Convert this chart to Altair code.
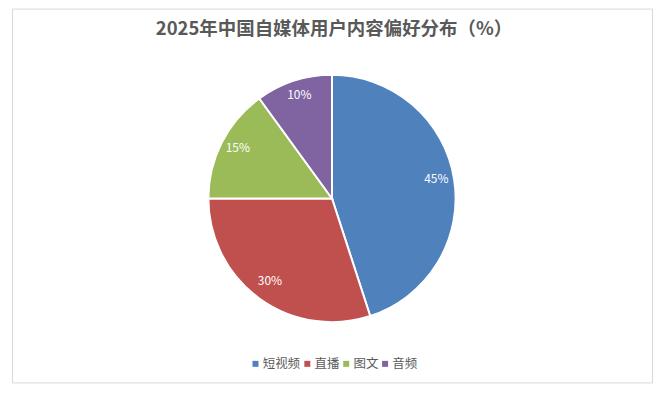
import altair as alt
import pandas as pd

categories = ["短视频", "直播", "图文", "音频"]
shares = [45, 30, 15, 10]
labels = ["45%", "30%", "15%", "10%"]
colors = ["#4f81bd", "#c0504d", "#9bbb59", "#8064a2"]
title_text = "2025年中国自媒体用户内容偏好分布（%）"

FONT = "Noto Sans CJK SC"
W, H = 643, 376

df = pd.DataFrame({"cat": categories, "share": shares, "label": labels,
                   "idx": list(range(len(categories)))})

base = alt.Chart(df).encode(
    theta=alt.Theta("share:Q", stack=True),
    order=alt.Order("idx:Q", sort="ascending"),
)

pie = base.mark_arc(outerRadius=124, stroke="white", strokeWidth=2,
                    x=321, y=190.5).encode(
    color=alt.Color(
        "cat:N",
        scale=alt.Scale(domain=categories, range=colors),
        sort=categories,
        legend=alt.Legend(
            title=None, orient="none", direction="horizontal",
            legendX=238, legendY=350,
            symbolType="square", symbolSize=36, symbolStrokeWidth=0,
            labelFontSize=12.5, labelFont=FONT, labelColor="#595959",
            columnPadding=-1, labelOffset=1,
        ),
    )
)

text = base.mark_text(radius=106, color="white", fontSize=12, font=FONT,
                      x=321, y=188).encode(text="label:N")

frame = alt.Chart(pd.DataFrame({"f": [0]})).mark_rect(
    fill="white", stroke="#d9d9d9", strokeWidth=1
).encode(x=alt.value(0.5), x2=alt.value(W - 0.5), y=alt.value(0.5), y2=alt.value(H - 0.5))

title = alt.Chart(pd.DataFrame({"t": [title_text]})).mark_text(
    fontSize=18.5, fontWeight="bold", color="#595959", font=FONT, baseline="middle", align="center"
).encode(text="t:N", x=alt.value(323), y=alt.value(20))

chart = alt.layer(frame, pie, text, title).properties(
    width=W, height=H,
    background="white",
    autosize=alt.AutoSizeParams(type="none"),
    padding={"left": 4, "top": 0, "right": 0, "bottom": 0},
).configure_view(stroke=None)

chart.save("out.html", embed_options={"renderer": "svg", "actions": False})
